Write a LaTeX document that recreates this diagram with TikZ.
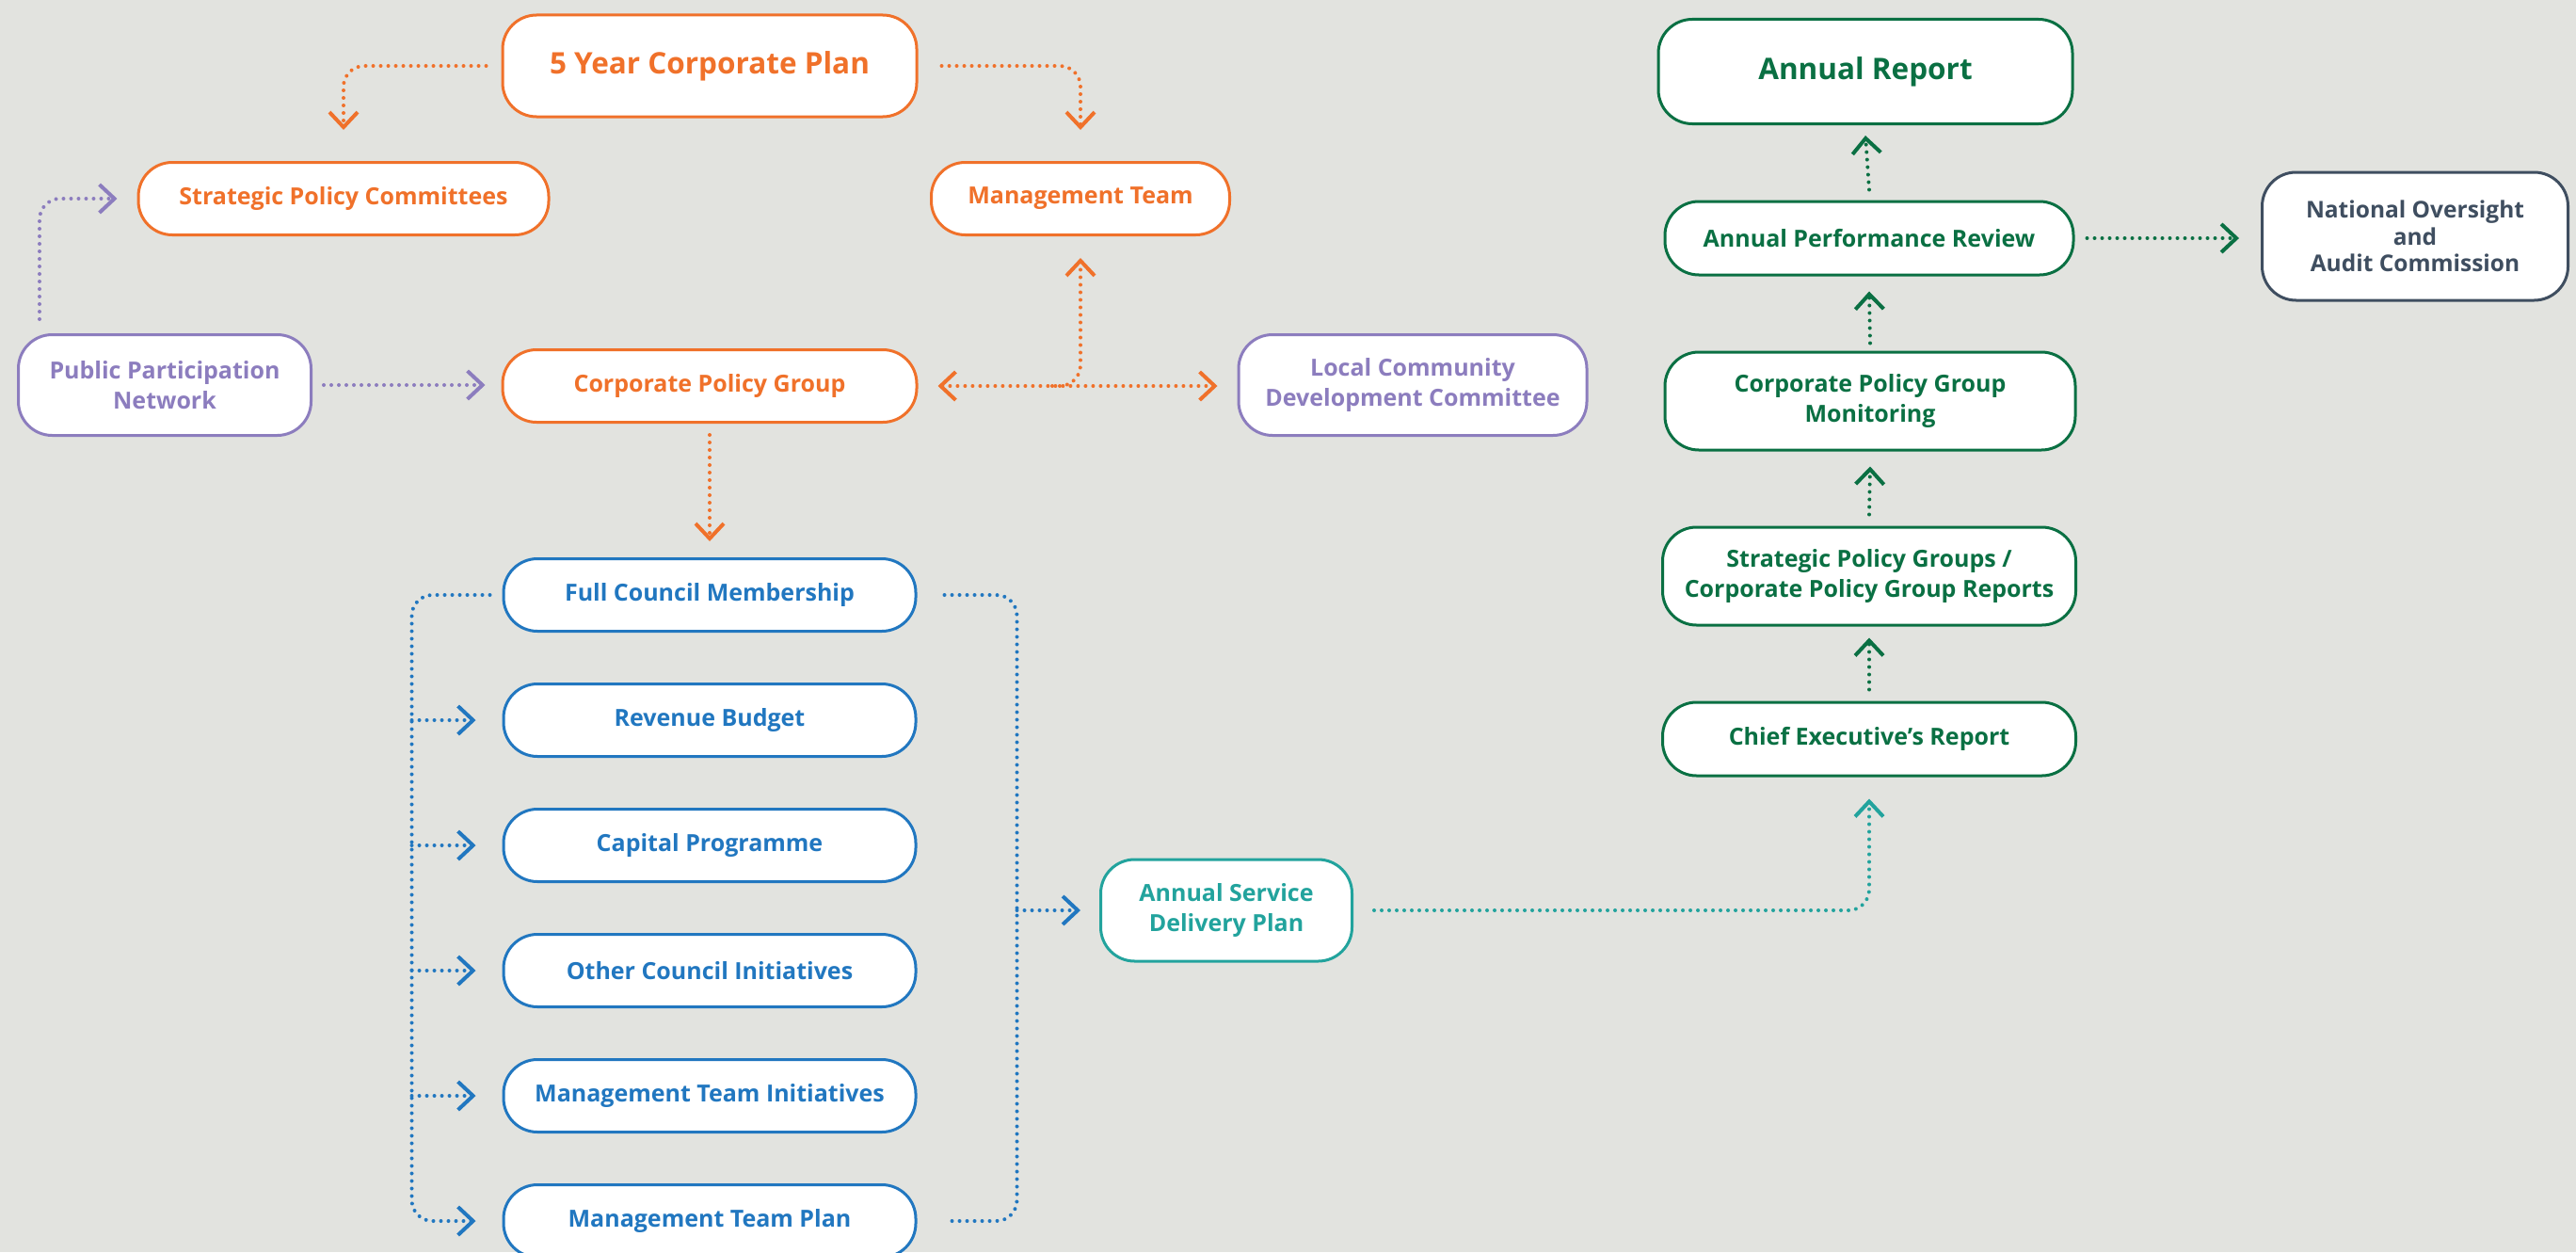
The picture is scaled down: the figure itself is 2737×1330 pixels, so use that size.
\documentclass[tikz,border=0pt]{standalone}
\usepackage{fontspec}
\setmainfont{Open Sans}
\usetikzlibrary{arrows.meta}
\definecolor{bg}{HTML}{E2E3DF}
\definecolor{ora}{HTML}{F0712A}
\definecolor{pur}{HTML}{8C7DBE}
\definecolor{blu}{HTML}{2177C0}
\definecolor{tea}{HTML}{22A39D}
\definecolor{grn}{HTML}{0A7043}
\definecolor{nav}{HTML}{3F4E60}
\tikzset{
  box/.style={draw=#1, text=#1, fill=white, rounded corners=36pt, line width=3pt,
    align=center, inner sep=0pt, font=\bfseries\fontsize{25}{32}\selectfont},
  big/.style={font=\bfseries\fontsize{31.5}{36}\selectfont},
  conn/.style={draw=#1, line width=4pt, line cap=round, dash pattern=on 0pt off 8pt,
    rounded corners=22pt},
  tip/.style={-{Straight Barb[length=16pt,width=30pt,line width=4pt]}},
  tips/.style={{Straight Barb[length=16pt,width=30pt,line width=4pt]}-{Straight Barb[length=16pt,width=30pt,line width=4pt]}}
}
\begin{document}
\begin{tikzpicture}[x=1pt,y=-1pt]
\fill[bg] (0,0) rectangle (2737,1330);
\useasboundingbox (0,0) rectangle (2737,1330);
% left column
\node[box=ora, big, minimum width=440pt, minimum height=108pt] (ycp) at (754,70) {\raisebox{6pt}{5 Year Corporate Plan}};
\node[box=ora, minimum width=436pt, minimum height=77pt] (spc) at (365,211) {Strategic Policy Committees};
\node[box=ora, minimum width=317pt, minimum height=77pt] (mt) at (1148,211) {Management Team};
\node[box=pur, minimum width=311pt, minimum height=107pt] (ppn) at (175,409) {Public Participation\\Network};
\node[box=ora, minimum width=440pt, minimum height=77pt] (cpg) at (754,410) {Corporate Policy Group};
\node[box=pur, minimum width=370pt, minimum height=107pt] (lcdc) at (1501,409) {Local Community\\Development Committee};
\node[box=blu, minimum width=438pt, minimum height=77pt] (fcm) at (754,632) {Full Council Membership};
\node[box=blu, minimum width=438pt, minimum height=77pt] (rb) at (754,765) {Revenue Budget};
\node[box=blu, minimum width=438pt, minimum height=77pt] (cp) at (754,898) {Capital Programme};
\node[box=blu, minimum width=438pt, minimum height=77pt] (oci) at (754,1031) {Other Council Initiatives};
\node[box=blu, minimum width=438pt, minimum height=77pt] (mti) at (754,1164) {Management Team Initiatives};
\node[box=blu, minimum width=438pt, minimum height=77pt] (mtp) at (754,1297) {Management Team Plan};
\node[box=tea, minimum width=267pt, minimum height=108pt] (asdp) at (1303,967) {Annual Service\\Delivery Plan};
% right column
\node[box=grn, big, minimum width=440pt, minimum height=111pt] (ar) at (1982,76) {Annual Report};
\node[box=grn, minimum width=434pt, minimum height=78pt] (apr) at (1986,253) {Annual Performance Review};
\node[box=nav, minimum width=325pt, minimum height=136pt, font=\bfseries\fontsize{24.5}{28.5}\selectfont] (noac) at (2566,251) {National Oversight\\and\\Audit Commission};
\node[box=grn, minimum width=436pt, minimum height=104pt] (cpgm) at (1987,426) {Corporate Policy Group\\Monitoring};
\node[box=grn, minimum width=439pt, minimum height=104pt] (spg) at (1986,612) {Strategic Policy Groups /\\Corporate Policy Group Reports};
\node[box=grn, minimum width=439pt, minimum height=78pt] (cer) at (1986,785) {Chief Executive’s Report};
% orange connectors
\draw[conn=ora, tip] ([xshift=-16pt]ycp.west) -| ([yshift=33pt]spc.north);
\draw[conn=ora, tip] ([xshift=25pt]ycp.east) -| ([yshift=33pt]mt.north);
\draw[conn=ora, tips] ([xshift=21pt]cpg.east) -- ([xshift=-21pt]lcdc.west |- cpg.east);
\coordinate (jn) at (mt.south |- cpg.east);
\draw[conn=ora, tip] ([xshift=-30pt]jn) -| ([yshift=-23pt]mt.south);
\draw[conn=ora, tip] ([yshift=-12pt]cpg.south) -- ([yshift=17pt]fcm.north);
% purple connectors
\draw[conn=pur, tip] ([xshift=24pt,yshift=15pt]ppn.north west) |- ([xshift=-21pt]spc.west);
\draw[conn=pur, tip] ([xshift=12pt]ppn.east) -- ([xshift=-17pt]cpg.west |- ppn.east);
% blue bracket left
\coordinate (lb) at ([xshift=-96pt]fcm.west);
\draw[conn=blu, tip] ([xshift=-13pt]fcm.west) -- (lb) -- (lb |- mtp.west) -- ([xshift=-28pt]mtp.west);
\foreach \n in {rb,cp,oci,mti}{
  \draw[conn=blu, rounded corners=0pt, tip] (lb |- \n.west) -- ([xshift=-28pt]\n.west);
}
% blue bracket right
\coordinate (rbk) at ([xshift=106pt]fcm.east);
\draw[conn=blu] ([xshift=29pt]fcm.east) -- (rbk) -- (rbk |- mtp.east) -- ([xshift=36pt]mtp.east);
\draw[conn=blu, rounded corners=0pt, tip] (rbk |- asdp.west) -- ([xshift=-20pt]asdp.west);
% teal
\draw[conn=tea, tip] ([xshift=22pt]asdp.east) -| ([yshift=-23pt]cer.south);
% green
\draw[conn=grn, tip] ([yshift=12pt]cer.north) -- ([yshift=-12pt]spg.south);
\draw[conn=grn, tip] ([yshift=12pt]spg.north) -- ([yshift=-16pt]cpgm.south);
\draw[conn=grn, tip] ([yshift=8pt]cpgm.north) -- ([yshift=-16pt]apr.south);
\draw[conn=grn, tip] ([yshift=11pt]apr.north) -- ([yshift=-11pt]ar.south);
\draw[conn=grn, tip] ([xshift=13pt]apr.east) -- ([xshift=-23pt]noac.west |- apr.east);
\end{tikzpicture}
\end{document}
